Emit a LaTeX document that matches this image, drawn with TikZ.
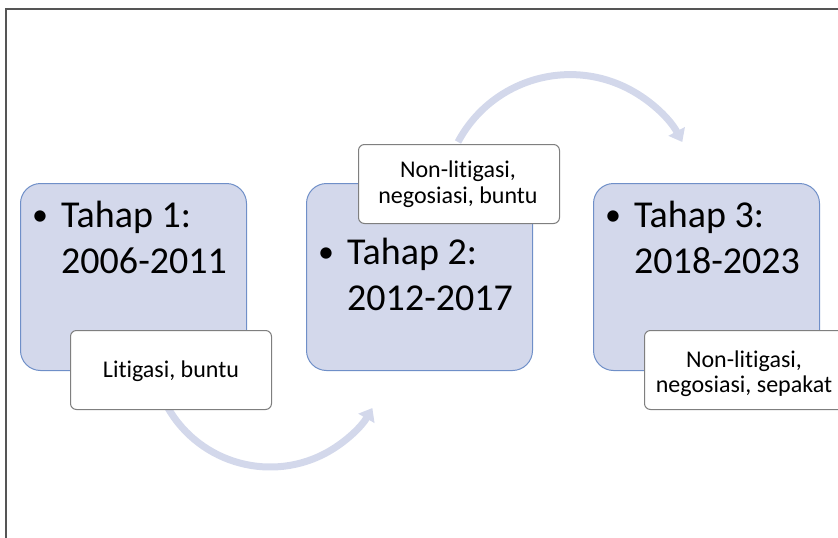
\documentclass[tikz,border=0pt]{standalone}
\usepackage{fontspec}
\setmainfont{Carlito}[RawFeature={-liga;-clig}]
\usetikzlibrary{arrows.meta}
\definecolor{boxfill}{HTML}{D3D8EB}
\definecolor{boxline}{HTML}{6F8FC8}
\definecolor{arcfill}{HTML}{D3D8EB}
\definecolor{frameline}{HTML}{555555}
\definecolor{noteline}{HTML}{7F7F7F}
\tikzset{
  stagebox/.style={draw=boxline, line width=1pt, fill=boxfill, rounded corners=20pt,
    minimum width=226pt, minimum height=187pt, anchor=north west, inner sep=0pt},
  notebox/.style={draw=noteline, line width=1pt, fill=white, rounded corners=6pt,
    minimum width=201pt, minimum height=79pt, anchor=north west, inner sep=0pt},
  bigtext/.style={font=\fontsize{38}{45}\selectfont, inner sep=0pt, anchor=base west},
  bullettext/.style={font=\fontsize{32}{40}\selectfont, inner sep=0pt, anchor=base},
  smalltext/.style={font=\fontsize{24}{26}\selectfont, inner sep=0pt, anchor=base},
  flowarc/.style={draw=arcfill, line width=7pt,
    -{Triangle[width=18pt,length=12pt,fill=arcfill]}},
}
\begin{document}
\begin{tikzpicture}[x=1pt,y=1pt]
\useasboundingbox (0,0) rectangle (838,-538);
\clip (0,0) rectangle (838,-538);
% frame
\draw[frameline, line width=1.2pt] (6,-538) -- (6,-9) -- (840,-9);
% flow arcs (behind boxes)
\coordinate (arcA) at (168,-408);
\coordinate (arcB) at (458,-142);
\draw[flowarc] (arcA) arc[start angle=210, end angle=330, radius=118];
\draw[flowarc] (arcB) arc[start angle=152, end angle=28, radius=127];
% stage boxes
\node[stagebox] (s1) at (20,-183) {};
\node[stagebox] (s2) at (306,-183) {};
\node[stagebox] (s3) at (593,-183) {};
% stage texts
\node[bullettext] (s1b) at (40,-225) {•};
\node[bigtext] (s1t1) at (61,-227) {Tahap 1:};
\node[bigtext] (s1t2) at (61,-273) {2006-2011};
\node[bullettext] (s2b) at (326,-262) {•};
\node[bigtext] (s2t1) at (347,-264) {Tahap 2:};
\node[bigtext] (s2t2) at (347,-310) {2012-2017};
\node[bullettext] (s3b) at (613,-225) {•};
\node[bigtext] (s3t1) at (634,-227) {Tahap 3:};
\node[bigtext] (s3t2) at (634,-273) {2018-2023};
% note boxes
\node[notebox] (n1) at (70,-330) {};
\node[notebox] (n2) at (358,-144) {};
\node[notebox] (n3) at (644,-330) {};
\node[smalltext] (n1t) at (171,-377) {Litigasi, buntu};
\node[smalltext] (n2t1) at (458,-177) {Non-litigasi,};
\node[smalltext] (n2t2) at (458,-203) {negosiasi, buntu};
\node[smalltext] (n3t1) at (744,-367) {Non-litigasi,};
\node[smalltext] (n3t2) at (744,-392) {negosiasi, sepakat};
\end{tikzpicture}
\end{document}
